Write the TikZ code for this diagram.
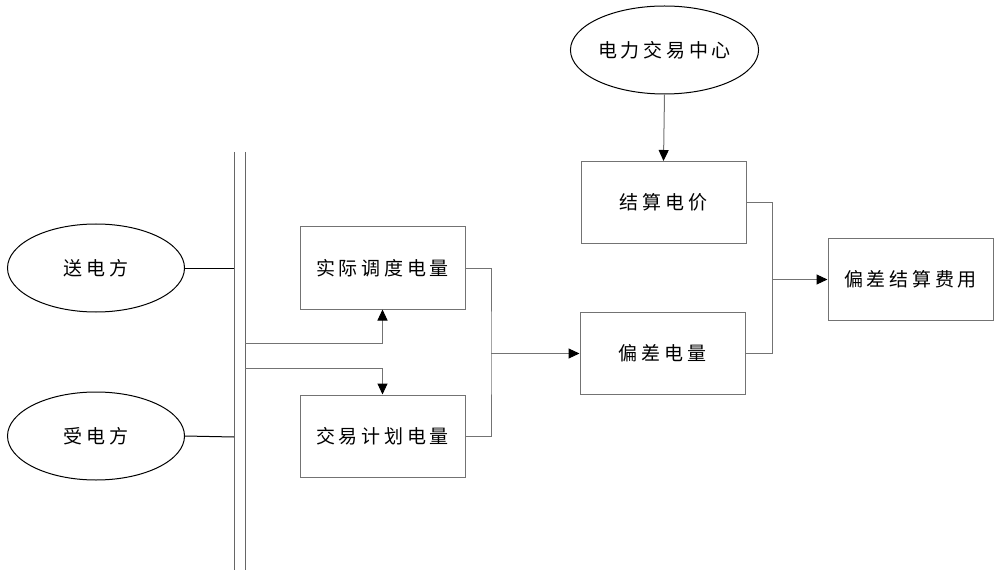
\documentclass[tikz,border=0pt]{standalone}
\usepackage{fontspec}
\setmainfont{Noto Sans CJK SC}
\usetikzlibrary{shapes.geometric,arrows.meta}
\begin{document}
\begin{tikzpicture}[x=1pt,y=-1pt,line width=1pt,
    party/.style={ellipse,draw=black,minimum width=177pt,minimum height=88pt,inner sep=0pt},
    block/.style={rectangle,draw=black!55,minimum width=165pt,minimum height=82pt,inner sep=0pt},
    link/.style={draw=black!55},
    flow/.style={link,-{Triangle[length=11pt,width=10pt,color=black]}},
    font=\addfontfeature{LetterSpace=20}\fontsize{19pt}{19pt}\selectfont]
        \useasboundingbox (0,0) rectangle (1000,577);
        % bus
        \foreach \x in {234,245}
            \draw[black!60] (\x,152) -- (\x,570);
        \coordinate (busA) at (234,268);
        \coordinate (busB) at (234,437);
        \coordinate (busC) at (245,343);
        \coordinate (busD) at (245,368);
        % nodes
        \node[party] (send) at (96,268) {送电方};
        \node[party] (recv) at (96,436) {受电方};
        \node[block] (actual) at (382.5,268) {实际调度电量};
        \node[block] (plan) at (382.5,436) {交易计划电量};
        \node[block] (dev) at (662.5,353.5) {偏差电量};
        \node[block] (price) at (663.5,202.5) {结算电价};
        \node[party] (center) at (664.5,50) {电力交易中心};
        \node[block] (cost) at (910.5,279.5) {偏差结算费用};
        % connectors
        \draw (send) -- (busA);
        \draw (recv.east) -- (busB);
        \draw[flow] (busC) -| (actual.south);
        \draw[flow] (busD) -| (plan.north);
        \coordinate (mergeL) at (491,353.5);
        \draw[link] (actual.east) -| (mergeL) |- (plan.east);
        \draw[flow] (mergeL) -- (dev.west);
        \draw[flow] (center.south) -- (price.north);
        \coordinate (mergeR) at (772,279.5);
        \draw[link] (price.east) -| (mergeR) |- (dev.east);
        \draw[flow] (mergeR) -- (cost.west);
\end{tikzpicture}
\end{document}
